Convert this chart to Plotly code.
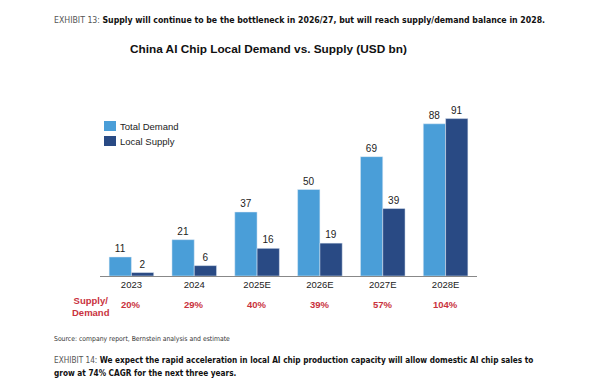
import plotly.graph_objects as go

categories = ["2023", "2024", "2025E", "2026E", "2027E", "2028E"]
total_demand = [11, 21, 37, 50, 69, 88]
local_supply = [2, 6, 16, 19, 39, 91]
supply_demand_pct = [20, 29, 40, 39, 57, 104]
series_names = ["Total Demand", "Local Supply"]

LIGHT = "#4a9ed8"
DARK = "#294a84"
RED = "#c9323d"
FONT = "Liberation Sans, Arial, sans-serif"
NARROW = "DejaVu Sans Condensed, Liberation Sans Narrow, Liberation Sans, Arial, sans-serif"

fig = go.Figure()
fig.add_bar(x=categories, y=total_demand, name=series_names[0], marker_color=LIGHT,
            text=[str(v) for v in total_demand], textposition="outside",
            textfont=dict(size=10, color="#222", family=FONT), cliponaxis=False)
fig.add_bar(x=categories, y=local_supply, name=series_names[1], marker_color=DARK,
            text=[str(v) for v in local_supply], textposition="outside",
            textfont=dict(size=10, color="#222", family=FONT), cliponaxis=False)

# page body has an 8px margin, so figure coordinates are offset by 8px
W, H = 592, 381
pl, pr, pt, pb = 92, 123, 72, 113
pw, ph = W - pl - pr, H - pt - pb
def px(x):
    return (x - pl) / pw
def py(y):
    return (H - pb - y) / ph

for i, p in enumerate(supply_demand_pct):
    fig.add_annotation(x=i, y=py(296), xref="x", yref="paper", yanchor="middle",
                       text=f"<b>{p}%</b>", showarrow=False,
                       font=dict(size=9.5, color=RED, family=FONT))
fig.add_annotation(x=px(83), y=py(298), xref="paper", yref="paper", yanchor="middle",
                   xanchor="center", text="<b>Supply/<br>Demand</b>", showarrow=False,
                   align="center", font=dict(size=9.5, color=RED, family=FONT))
fig.add_annotation(x=px(260), y=py(41), xref="paper", yref="paper", yanchor="middle",
                   text="<b>China AI Chip Local Demand vs. Supply (USD bn)</b>",
                   showarrow=False, xanchor="center",
                   font=dict(size=11.8, color="#111", family=FONT))

# legend (squares + labels)
for k, (name, col) in enumerate(zip(series_names, [LIGHT, DARK])):
    y0 = 113 + 15 * k
    fig.add_shape(type="rect", xref="paper", yref="paper",
                  x0=px(96), x1=px(108), y0=py(y0 + 10), y1=py(y0),
                  fillcolor=col, line=dict(width=0))
    fig.add_annotation(x=px(110), y=py(y0 + 5), xref="paper", yref="paper",
                       xanchor="left", yanchor="middle", showarrow=False, text=name,
                       font=dict(size=9.5, color="#222", family=FONT))

fig.add_annotation(x=px(44), y=py(12), xref="paper", yref="paper", xanchor="left", yanchor="middle",
                   showarrow=False,
                   text="<span style='color:#555'>EXHIBIT 13:</span> <b>Supply will continue to be the bottleneck in 2026/27, but will reach supply/demand balance in 2028.</b>",
                   font=dict(size=8.7, color="#111", family=NARROW))
fig.add_annotation(x=px(44), y=py(331), xref="paper", yref="paper", xanchor="left", yanchor="middle",
                   showarrow=False, text="Source: company report, Bernstein analysis and estimate",
                   font=dict(size=6.8, color="#333", family=NARROW))
fig.add_annotation(x=px(44), y=py(352), xref="paper", yref="paper", xanchor="left", yanchor="middle",
                   showarrow=False, align="left",
                   text="<span style='color:#555'>EXHIBIT 14:</span> <b>We expect the rapid acceleration in local AI chip production capacity will allow domestic AI chip sales to</b>",
                   font=dict(size=8.2, color="#111", family=NARROW))
fig.add_annotation(x=px(44), y=py(365), xref="paper", yref="paper", xanchor="left", yanchor="middle",
                   showarrow=False, align="left",
                   text="<b>grow at 74% CAGR for the next three years.</b>",
                   font=dict(size=8.2, color="#111", family=NARROW))

fig.update_layout(
    width=W, height=H,
    margin=dict(l=pl, r=pr, t=pt, b=pb),
    paper_bgcolor="white", plot_bgcolor="white",
    barmode="group", bargap=0.29, bargroupgap=0,
    showlegend=False,
    xaxis=dict(type="category", range=[-0.5, 5.5], showline=True, linecolor="#888", linewidth=1, ticks="",
               tickfont=dict(size=9.5, color="#222", family=FONT), showgrid=False),
    yaxis=dict(visible=False, range=[0, 113.3]),
    font=dict(family=FONT),
)

fig.write_html("out.html")
